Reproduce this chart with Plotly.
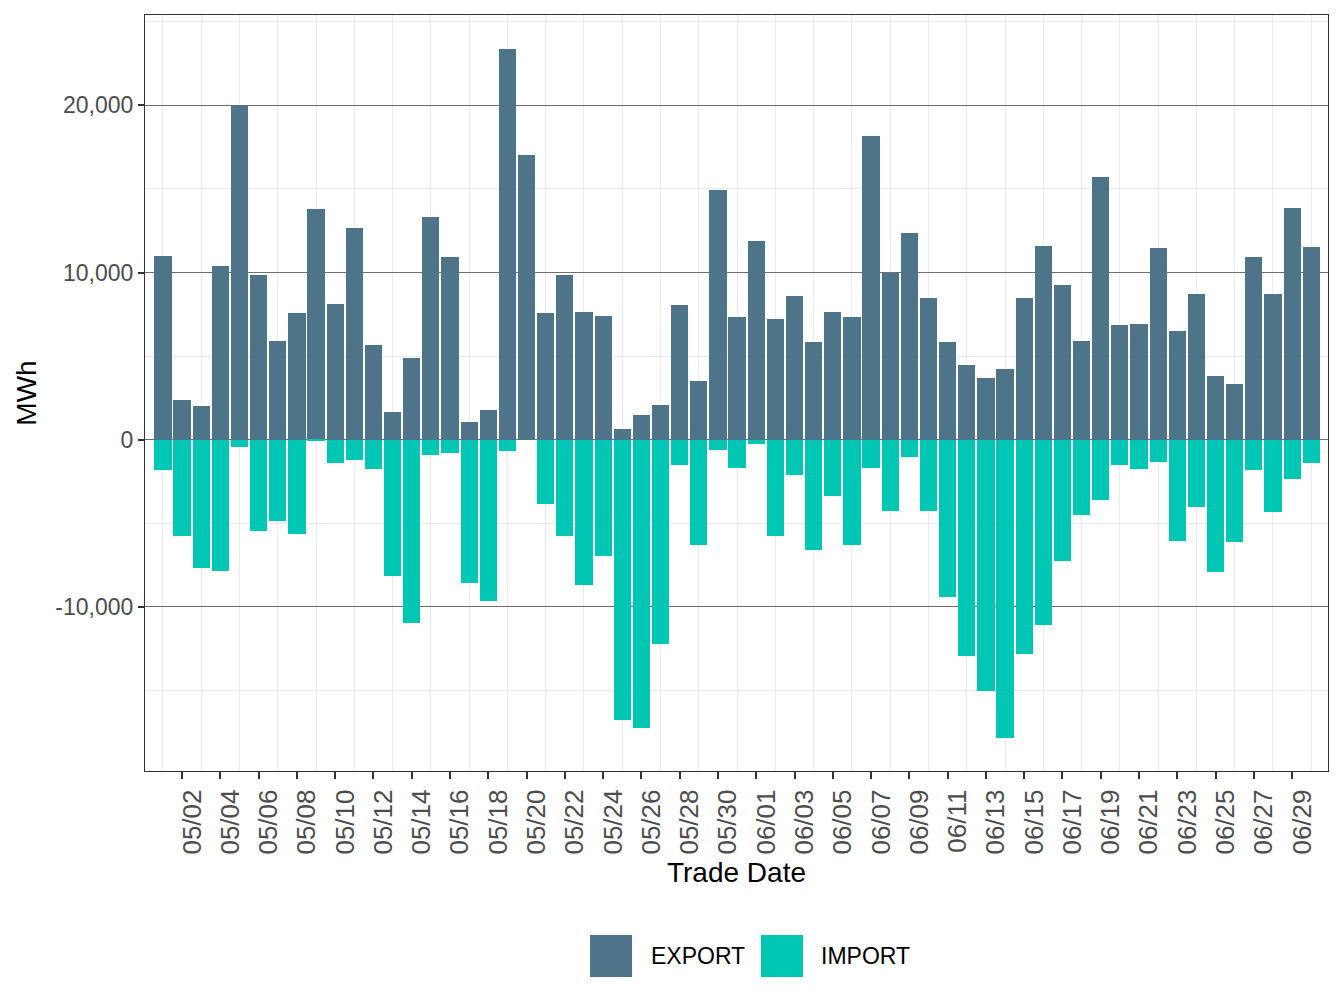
import pandas as pd
import plotly.graph_objects as go

dates = [d.strftime("%Y-%m-%d") for d in pd.date_range("2024-05-01", "2024-06-30", freq="D")]

export_mwh = [
    11000, 2370, 2010, 10390, 20000, 9850, 5900, 7580, 13800, 8120,
    12660, 5660, 1650, 4890, 13320, 10930, 1060, 1770, 23370, 17030,
    7580, 9850, 7640, 7400, 640, 1480, 2070, 8060, 3510, 14940,
    7340,
    11880, 7220, 8590, 5840, 7640, 7340, 18170, 9970, 12360, 8470,
    5840, 4470, 3690, 4230, 8470, 11590, 9250, 5900, 15710, 6860,
    6920, 11470, 6500, 8710, 3810, 3330, 10930, 8710, 13860, 11530,
]

import_mwh = [
    -1790, -5740, -7660, -7840, -420, -5440, -4850, -5620, -60, -1380,
    -1200, -1730, -8140, -10950, -900, -780, -8550, -9630, -660, 0,
    -3830, -5740, -8670, -6940, -16750, -17230, -12200, -1500, -6280, -600,
    -1670,
    -240, -5740, -2090, -6580, -3350, -6280, -1670, -4250, -1020, -4250,
    -9390, -12920, -15010, -17830, -12800, -11070, -7240, -4490, -3590, -1500,
    -1730, -1320, -6040, -4010, -7900, -6100, -1790, -4310, -2330, -1380,
]

series_names = ["EXPORT", "IMPORT"]
series_colors = ["#4E7489", "#00C7B3"]

y_range = [-19810, 25400]
x_range = ["2024-04-30 01:30", "2024-06-30 21:00"]

DAY_MS = 86400000
FONT = "Liberation Sans, Arial, sans-serif"

fig = go.Figure()
for name, vals, col in zip(series_names, [export_mwh, import_mwh], series_colors):
    fig.add_trace(go.Bar(
        x=dates, y=vals, name=name, marker=dict(color=col, line=dict(width=0)),
        width=0.9 * DAY_MS, showlegend=False,
    ))

# page body has an 8px margin, so the figure is 8px smaller on each leading side
fig.update_layout(
    barmode="relative",
    width=1336, height=1000,
    margin=dict(l=137, r=16, t=7, b=237),
    paper_bgcolor="white", plot_bgcolor="white",
    font=dict(family=FONT, size=23, color="#4D4D4D"),
    bargap=0,
)

fig.update_xaxes(
    type="date", range=x_range,
    tickmode="linear", tick0="2024-05-02", dtick=2 * DAY_MS,
    tickformat="%m/%d", tickangle=-90,
    ticks="outside", ticklen=7, tickwidth=1.5, tickcolor="#333333",
    tickfont=dict(family=FONT, size=26, color="#4D4D4D"),
    ticklabelshift=10,
    showgrid=False,
    minor=dict(tickmode="linear", tick0="2024-05-01", dtick=2 * DAY_MS,
               showgrid=True, gridcolor="#EBEBEB", gridwidth=1.2, ticks=""),
    showline=True, linecolor="#333333", linewidth=1.2, mirror=True,
    title=dict(text="Trade Date", font=dict(family=FONT, size=28, color="black"), standoff=8),
)

fig.update_yaxes(
    range=y_range,
    tickmode="array", tickvals=[-10000, 0, 10000, 20000],
    ticktext=["-10,000", "0", "10,000", "20,000"],
    ticks="outside", ticklen=6, tickwidth=1.5, tickcolor="#333333",
    tickfont=dict(family=FONT, size=23, color="#4D4D4D"),
    showgrid=True, gridcolor="#6E6E6E", gridwidth=0.8,
    zeroline=True, zerolinecolor="#6E6E6E", zerolinewidth=0.8,
    minor=dict(tickmode="linear", tick0=0, dtick=5000,
               showgrid=True, gridcolor="#EBEBEB", gridwidth=1.2, ticks=""),
    showline=True, linecolor="#333333", linewidth=1.2, mirror=True,
    title=dict(text="MWh", font=dict(family=FONT, size=28, color="black"), standoff=10),
)

# Legend (drawn at the bottom, as in the reference)
legend_x = [0.3762, 0.5207]
text_x = [0.426, 0.5697]
for name, col, lx, tx in zip(series_names, series_colors, legend_x, text_x):
    fig.add_shape(type="rect", xref="paper", yref="paper",
                  x0=lx, x1=lx + 0.0355, y0=-0.2725, y1=-0.2169,
                  fillcolor=col, line=dict(width=0))
    fig.add_annotation(xref="paper", yref="paper", x=tx, y=-0.2447,
                       text=name, showarrow=False, xanchor="left", yanchor="middle",
                       font=dict(family=FONT, size=23, color="black"))

fig.write_html("out.html")
